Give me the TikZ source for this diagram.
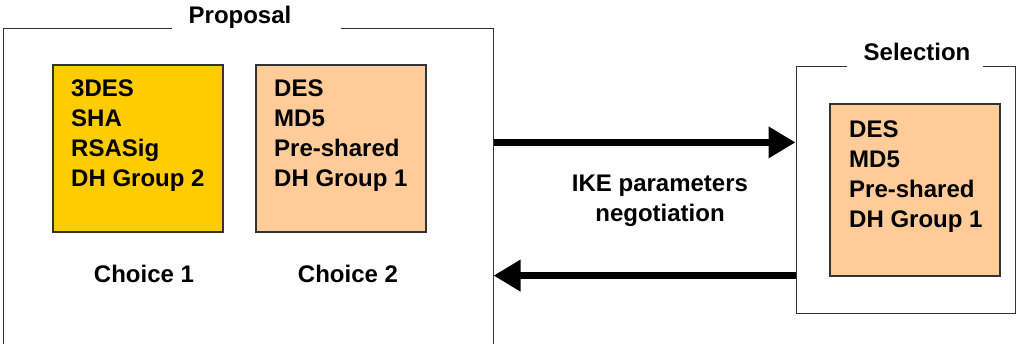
\documentclass[tikz,border=0pt]{standalone}
\usepackage{fontspec}
\setmainfont{Liberation Sans}
\usetikzlibrary{arrows.meta}
\definecolor{gold}{HTML}{FFCC00}
\definecolor{peach}{HTML}{FFCC99}
\definecolor{edge}{HTML}{333333}
\tikzset{
 frame/.style={draw=edge, line width=1pt, inner sep=0},
 gapbox/.style={fill=white, draw=none, inner sep=0, minimum height=5pt},
 card/.style={draw=edge, line width=1.3pt, inner sep=0, minimum width=170},
 lbl/.style={font=\bfseries\fontsize{24}{30}\selectfont, inner sep=0},
 cardtext/.style={lbl, align=left, anchor=north west},
 bigarrow/.style={line width=7pt, -{Triangle[length=27pt,width=30pt]}},
}
\begin{document}
\begin{tikzpicture}[x=1pt,y=1pt]
\useasboundingbox (0,0) rectangle (1017,-343);
\clip (0,0) rectangle (1017,-343);
\fill[white] (0,0) rectangle (1017,-343);
% frames
\node[frame, minimum width=490, minimum height=340] (prop) at (248,-198) {};
\node[gapbox, minimum width=169] (propgap) at (256.5,-28) {};
\node[lbl, anchor=base] (proptitle) at (240,-23) {Proposal};
\node[frame, minimum width=219, minimum height=247] (sel) at (905.5,-189.5) {};
\node[gapbox, minimum width=136] (selgap) at (915,-66) {};
\node[lbl, anchor=base] (seltitle) at (917,-60) {Selection};
% cards
\node[card, fill=gold, minimum height=167] (c1) at (138,-148.5) {};
\node[card, fill=peach, minimum height=167] (c2) at (341,-148.5) {};
\node[card, fill=peach, minimum height=172] (c3) at (915,-190) {};
\node[cardtext] (t1) at (71,-79.8) {3DES\\SHA\\RSASig\\DH Group 2};
\node[cardtext] (t2) at (274,-79.8) {DES\\MD5\\Pre-shared\\DH Group 1};
\node[cardtext] (t3) at (849,-120.8) {DES\\MD5\\Pre-shared\\DH Group 1};
\node[lbl, anchor=base] (ch1) at (144,-282) {Choice 1};
\node[lbl, anchor=base] (ch2) at (348,-282) {Choice 2};
\node[lbl, align=center, anchor=north] (ike) at (660,-174.8) {IKE parameters\\negotiation};
% arrows
\coordinate (ytop) at (0,-142.4);
\coordinate (ybot) at (0,-275.6);
\draw[bigarrow] (prop.east |- ytop) -- (sel.west |- ytop);
\draw[bigarrow] (sel.west |- ybot) -- (prop.east |- ybot);
\end{tikzpicture}
\end{document}
